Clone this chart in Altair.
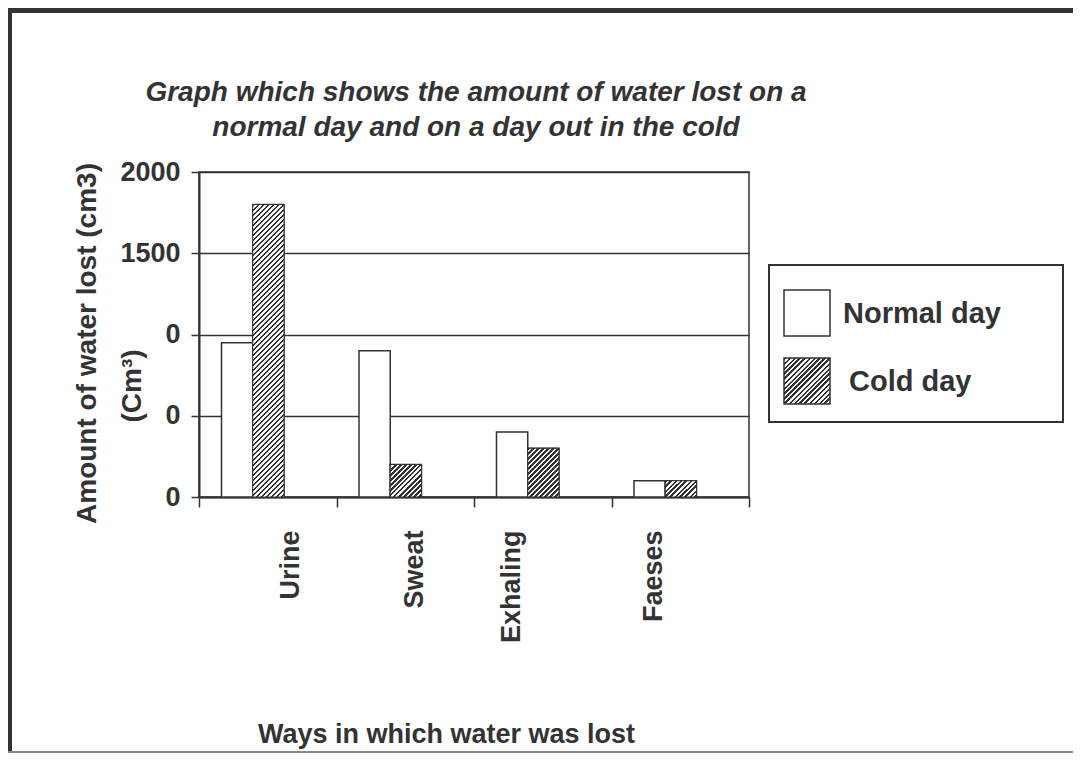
import altair as alt
import pandas as pd

# ---------------- data ----------------
categories = ["Urine", "Sweat", "Exhaling", "Faeses"]
series = ["Normal day", "Cold day"]
normal_day = [950, 900, 400, 100]
cold_day = [1800, 200, 300, 100]
y_tick_values = [0, 500, 1000, 1500, 2000]
y_tick_labels = ["0", "0", "0", "1500", "2000"]
title_lines = ["Graph which shows the amount of water lost on a",
               "normal day and on a day out in the cold"]
x_title = "Ways in which water was lost"
y_title = "Amount of water lost (cm3)"
y_subtitle = "(Cm\u00b3)"

# ---------------- style ----------------
W, H = 550, 325
Y_MAX = 2000
INK = "#333333"
FONT = "Liberation Sans"
label_shift = [23, 9, -31, -27]   # per-category label nudges (px)
GROUP = (22.5, 85.0)              # pixel span of the bar pair inside a category
LEG_SYM = 46                      # legend swatch size (px)
LEG_X, LEG_Y, LEG_STEP = 585, 118, 68
LEG_TEXT_DX = [59, 65]
PAD = {"left": 191, "top": 164, "right": 324, "bottom": 256}
RIGHT_EDGE = W + PAD["right"]
BOTTOM_EDGE = H + PAD["bottom"]

rows = []
for c, n, k in zip(categories, normal_day, cold_day):
    rows.append({"way": c, "day": series[0], "amount": n})
    rows.append({"way": c, "day": series[1], "amount": k})
df = pd.DataFrame(rows)

bar_w = (GROUP[1] - GROUP[0]) / len(series)


def hatch(w, h, period=5.0, dark=0.45):
    """Diagonal '/' hatching as a hard-stop linear gradient (bbox units)."""
    total = w + h
    k = total / (w * w + h * h)
    stops = []
    i = 0
    while i * period < total:
        a = i * period / total
        b = min((i * period + dark * period) / total, 1.0)
        e = min((i + 1) * period / total, 1.0)
        stops += [{"offset": round(a, 5), "color": INK},
                  {"offset": round(b, 5), "color": INK},
                  {"offset": round(b, 5), "color": "white"},
                  {"offset": round(e, 5), "color": "white"}]
        i += 1
    return {"gradient": "linear", "x1": 0, "y1": 0,
            "x2": round(k * w, 5), "y2": round(k * h, 5), "stops": stops}


y_expr = "''"
for v, lab in reversed(list(zip(y_tick_values, y_tick_labels))):
    y_expr = f"datum.value === {v} ? '{lab}' : ({y_expr})"

offset_cond = {"condition": [{"test": f"datum.value === '{c}'", "value": s}
                             for c, s in zip(categories, label_shift)],
               "value": 0}

x_axis = alt.Axis(
    tickBand="extent", ticks=True, tickSize=10, tickColor=INK, tickWidth=1.5,
    domainColor=INK, domainWidth=2,
    labelAngle=270, labelAlign="right", labelBaseline="middle", labelPadding=23,
    labelOffset=offset_cond,
    labelFont=FONT, labelFontSize=27, labelFontWeight="bold", labelColor=INK,
    titleFont=FONT, titleFontSize=27, titleFontWeight="bold", titleColor=INK,
    titleX=247, titleY=245, titleAlign="center", titleBaseline="alphabetic",
)
y_axis = alt.Axis(
    values=y_tick_values, labelExpr=y_expr,
    grid=True, gridColor=INK, gridWidth=1.5,
    tickSize=8, tickColor=INK, tickWidth=1.5,
    domainColor=INK, domainWidth=2,
    labelFont=FONT, labelFontSize=27, labelFontWeight="bold", labelColor=INK,
    labelPadding=11,
    titleFont=FONT, titleFontSize=28, titleFontWeight="bold", titleColor=INK,
    titleAngle=270, titleX=-112, titleY=171, titleAlign="center",
    titleBaseline="middle",
)

x_scale = alt.Scale(domain=categories, paddingInner=0, paddingOuter=0)
off_scale = alt.Scale(domain=series, paddingInner=0, paddingOuter=0, range=list(GROUP))
y_scale = alt.Scale(domain=[0, Y_MAX], nice=False)

X = alt.X("way:N", sort=categories, scale=x_scale, axis=x_axis, title=x_title)
XO = alt.XOffset("day:N", sort=series, scale=off_scale)
Y = alt.Y("amount:Q", scale=y_scale, axis=y_axis, title=y_title)

base = alt.Chart(df).mark_bar(stroke=INK, strokeWidth=1.5, fill="white").encode(
    x=X, xOffset=XO, y=Y,
)

cold_layers = []
for cat, v in zip(categories, cold_day):
    h = v / Y_MAX * H
    cold_layers.append(
        alt.Chart(df)
        .transform_filter((alt.datum.way == cat) & (alt.datum.day == series[1]))
        .mark_bar(fill=hatch(bar_w, h), stroke=INK, strokeWidth=1)
        .encode(x=X, xOffset=XO, y=Y)
    )

deco = pd.DataFrame({"k": [0]})
top_band = alt.Chart(deco).mark_rect(fill=INK).encode(
    x=alt.value(-PAD["left"]), x2=alt.value(RIGHT_EDGE),
    y=alt.value(-PAD["top"]), y2=alt.value(-PAD["top"] + 5))
left_band = alt.Chart(deco).mark_rect(fill=INK).encode(
    x=alt.value(-PAD["left"]), x2=alt.value(-PAD["left"] + 4),
    y=alt.value(-PAD["top"]), y2=alt.value(BOTTOM_EDGE))
bottom_line = alt.Chart(deco).mark_rect(fill="#888888").encode(
    x=alt.value(-PAD["left"]), x2=alt.value(RIGHT_EDGE),
    y=alt.value(BOTTOM_EDGE - 2), y2=alt.value(BOTTOM_EDGE))
legend_box = alt.Chart(deco).mark_rect(filled=False, stroke=INK, strokeWidth=2).encode(
    x=alt.value(570), x2=alt.value(864), y=alt.value(93), y2=alt.value(250))

# legend entries (swatch + label) built from the series list
legend_layers = []
swatch_fills = ["white", hatch(LEG_SYM, LEG_SYM)]
for i, name in enumerate(series):
    top = LEG_Y + i * LEG_STEP
    legend_layers.append(
        alt.Chart(deco).mark_rect(fill=swatch_fills[i], stroke=INK, strokeWidth=1.5).encode(
            x=alt.value(LEG_X), x2=alt.value(LEG_X + LEG_SYM),
            y=alt.value(top), y2=alt.value(top + LEG_SYM)))
    legend_layers.append(
        alt.Chart(deco).mark_text(
            font=FONT, fontSize=29, fontWeight="bold", color=INK,
            align="left", baseline="middle",
        ).encode(x=alt.value(LEG_X + LEG_TEXT_DX[i]),
                 y=alt.value(top + LEG_SYM / 2 + 1),
                 text=alt.value(name)))

title_mark = alt.Chart(deco).mark_text(
    font=FONT, fontSize=28, fontWeight="bold", fontStyle="italic", color=INK,
    align="center", baseline="alphabetic", lineHeight=35,
).encode(x=alt.value(277), y=alt.value(-71), text=alt.value(title_lines))

sub_mark = alt.Chart(deco).mark_text(
    font=FONT, fontSize=28, fontWeight="bold", color=INK, angle=270,
    align="center", baseline="middle",
).encode(x=alt.value(-66), y=alt.value(214), text=alt.value(y_subtitle))

chart = alt.layer(
    top_band, left_band, bottom_line, base, *cold_layers, legend_box,
    *legend_layers, title_mark, sub_mark,
).properties(
    width=W, height=H,
    autosize=alt.AutoSizeParams(type="none"),
    padding=PAD,
    background="white",
).configure_view(stroke=INK, strokeWidth=1.5)

chart.save("out.html", embed_options={"renderer": "svg", "actions": False})
